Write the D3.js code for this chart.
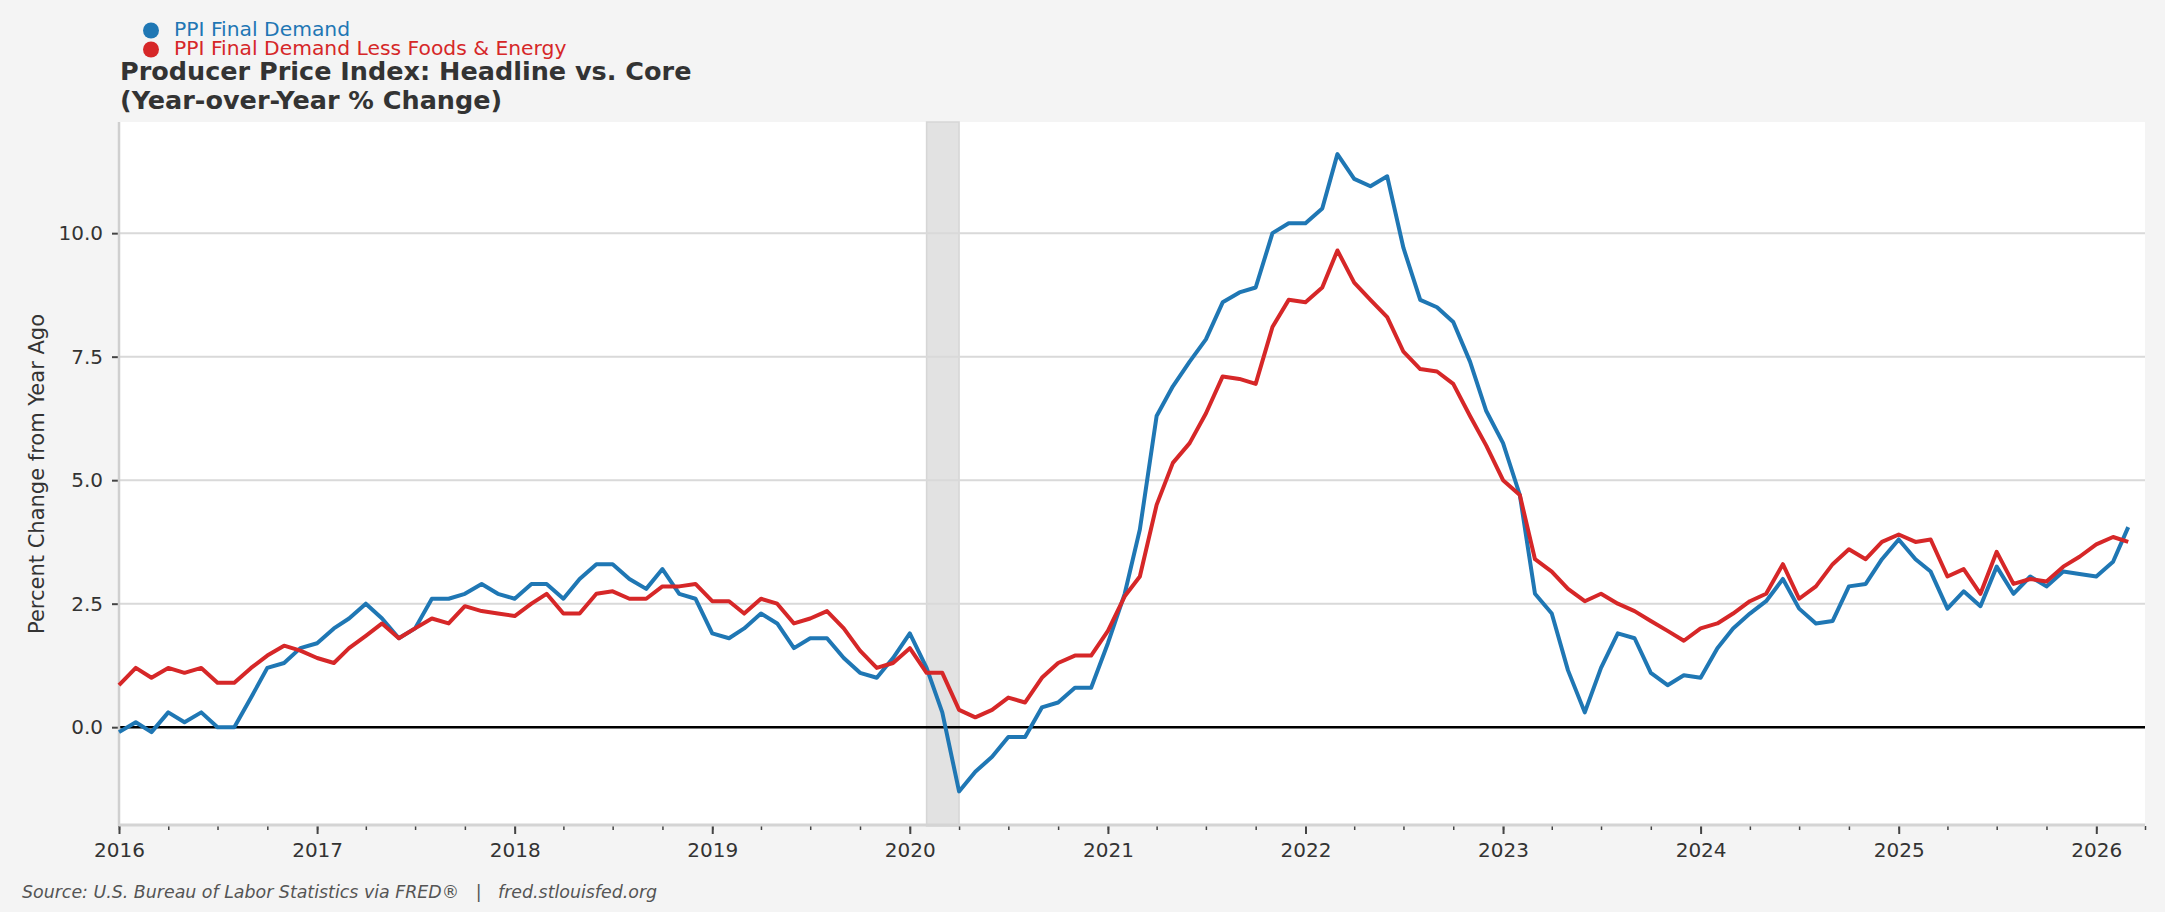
<!DOCTYPE html>
<html>
<head>
<meta charset="utf-8">
<script src="https://cdn.jsdelivr.net/npm/d3@7"></script>
<style>
  body { margin: 0; background: #f4f4f4; }
  text { font-family: "DejaVu Sans", sans-serif; }
</style>
</head>
<body>
<div id="chart"></div>
<script>
// months run Jan 2016 .. Mar 2026
var startMonth = "2016-01";

// PPI Final Demand, YoY %
var headline = [
  -0.1, 0.1, -0.1, 0.3, 0.1, 0.3, 0.0, 0.0, 0.6, 1.2, 1.3, 1.6,
  1.7, 2.0, 2.2, 2.5, 2.2, 1.8, 2.0, 2.6, 2.6, 2.7, 2.9, 2.7,
  2.6, 2.9, 2.9, 2.6, 3.0, 3.3, 3.3, 3.0, 2.8, 3.2, 2.7, 2.6,
  1.9, 1.8, 2.0, 2.3, 2.1, 1.6, 1.8, 1.8, 1.4, 1.1, 1.0, 1.4,
  1.9, 1.2, 0.3, -1.3, -0.9, -0.6, -0.2, -0.2, 0.4, 0.5, 0.8, 0.8,
  1.7, 2.7, 4.0, 6.3, 6.9, 7.4, 7.85, 8.6, 8.8, 8.9, 10.0, 10.2,
  10.2, 10.5, 11.6, 11.1, 10.95, 11.15, 9.7, 8.65, 8.5, 8.2, 7.4, 6.4,
  5.75, 4.7, 2.7, 2.3, 1.15, 0.3, 1.2, 1.9, 1.8, 1.1, 0.85, 1.05,
  1.0, 1.6, 2.0, 2.3, 2.55, 3.0, 2.4, 2.1, 2.15, 2.85, 2.9, 3.4,
  3.8, 3.4, 3.15, 2.4, 2.75, 2.45, 3.25, 2.7, 3.05, 2.85, 3.15, 3.1,
  3.05, 3.35, 4.05
];

// PPI Final Demand Less Foods & Energy, YoY %
var core = [
  0.85, 1.2, 1.0, 1.2, 1.1, 1.2, 0.9, 0.9, 1.2, 1.45, 1.65, 1.55,
  1.4, 1.3, 1.6, 1.85, 2.1, 1.8, 2.0, 2.2, 2.1, 2.45, 2.35, 2.3,
  2.25, 2.5, 2.7, 2.3, 2.3, 2.7, 2.75, 2.6, 2.6, 2.85, 2.85, 2.9,
  2.55, 2.55, 2.3, 2.6, 2.5, 2.1, 2.2, 2.35, 2.0, 1.55, 1.2, 1.3,
  1.6, 1.1, 1.1, 0.35, 0.2, 0.35, 0.6, 0.5, 1.0, 1.3, 1.45, 1.45,
  1.95, 2.65, 3.05, 4.5, 5.35, 5.75, 6.35, 7.1, 7.05, 6.95, 8.1, 8.65,
  8.6, 8.9, 9.65, 9.0, 8.65, 8.3, 7.6, 7.25, 7.2, 6.95, 6.3, 5.7,
  5.0, 4.7, 3.4, 3.15, 2.8, 2.55, 2.7, 2.5, 2.35, 2.15, 1.95, 1.75,
  2.0, 2.1, 2.3, 2.55, 2.7, 3.3, 2.6, 2.85, 3.3, 3.6, 3.4, 3.75,
  3.9, 3.75, 3.8, 3.05, 3.2, 2.7, 3.55, 2.9, 3.0, 2.95, 3.25, 3.45,
  3.7, 3.85, 3.75
];

var seriesNames = ["PPI Final Demand", "PPI Final Demand Less Foods & Energy"];
var seriesColors = ["#1f77b4", "#d62728"];
var yTicks = [0, 2.5, 5, 7.5, 10];
var recession = ["2020-02-01", "2020-04-01"];

var svgWidth = 2165;
var svgHeight = 912;
var margin = { top: 122, right: 20, bottom: 86, left: 119 };
var width = svgWidth - margin.left - margin.right;
var height = svgHeight - margin.top - margin.bottom;

var parseMonth = d3.timeParse("%Y-%m");
var parseDay = d3.timeParse("%Y-%m-%d");
var start = parseMonth(startMonth);
var months = headline.map((d, i) => d3.timeMonth.offset(start, i));

var svg = d3.select("#chart")
  .append("svg")
  .attr("width", svgWidth)
  .attr("height", svgHeight);

svg.append("rect")
  .attr("width", svgWidth)
  .attr("height", svgHeight)
  .attr("fill", "#f4f4f4");

var chartGroup = svg.append("g")
  .attr("transform", `translate(${margin.left}, ${margin.top})`);

var xScale = d3.scaleTime()
  .domain([parseMonth("2016-01"), parseMonth("2026-04")])
  .range([0, width]);

var yScale = d3.scaleLinear()
  .domain([-2.0, 12.25])
  .range([height, 0]);

// plot background
chartGroup.append("rect")
  .attr("width", width)
  .attr("height", height)
  .attr("fill", "#ffffff");

// recession shading
chartGroup.append("rect")
  .attr("x", xScale(parseDay(recession[0])))
  .attr("width", xScale(parseDay(recession[1])) - xScale(parseDay(recession[0])))
  .attr("y", 0)
  .attr("height", height)
  .attr("fill", "#e2e2e2")
  .attr("stroke", "#d6d6d6")
  .attr("stroke-width", 1.5);

// horizontal grid
chartGroup.selectAll(".grid")
  .data(yTicks)
  .enter()
  .append("line")
  .attr("x1", 0)
  .attr("x2", width)
  .attr("y1", d => yScale(d))
  .attr("y2", d => yScale(d))
  .attr("stroke", "#d9d9d9")
  .attr("stroke-width", 2);

// zero line
chartGroup.append("line")
  .attr("x1", 0)
  .attr("x2", width)
  .attr("y1", yScale(0))
  .attr("y2", yScale(0))
  .attr("stroke", "#000")
  .attr("stroke-width", 2.5);

// y axis
var leftAxis = d3.axisLeft(yScale)
  .tickValues(yTicks)
  .tickFormat(d3.format(".1f"))
  .tickSize(7)
  .tickPadding(9);

var yAxis = chartGroup.append("g").call(leftAxis);
yAxis.select(".domain").remove();
yAxis.selectAll("line").attr("stroke", "#444").attr("stroke-width", 2);
yAxis.selectAll("text")
  .attr("font-size", 20)
  .attr("fill", "#333");

// x axis: minor quarterly ticks, major yearly
var minorAxis = d3.axisBottom(xScale)
  .ticks(d3.timeMonth.every(3))
  .tickSize(4)
  .tickFormat("");
chartGroup.append("g")
  .attr("transform", `translate(0, ${height})`)
  .call(minorAxis)
  .call(g => g.select(".domain").remove())
  .selectAll("line").attr("stroke", "#444").attr("stroke-width", 1.5);

var bottomAxis = d3.axisBottom(xScale)
  .ticks(d3.timeYear.every(1))
  .tickFormat(d3.timeFormat("%Y"))
  .tickSize(8)
  .tickPadding(9);
var xAxis = chartGroup.append("g")
  .attr("transform", `translate(0, ${height})`)
  .call(bottomAxis);
xAxis.select(".domain").remove();
xAxis.selectAll("line").attr("stroke", "#444").attr("stroke-width", 2);
xAxis.selectAll("text")
  .attr("font-size", 20)
  .attr("fill", "#333");

// spines
chartGroup.append("line")
  .attr("x1", 0).attr("x2", 0)
  .attr("y1", 0).attr("y2", height)
  .attr("stroke", "#cfcfcf")
  .attr("stroke-width", 2.5);
chartGroup.append("line")
  .attr("x1", 0).attr("x2", width)
  .attr("y1", height - 1).attr("y2", height - 1)
  .attr("stroke", "#d4d4d4")
  .attr("stroke-width", 3);

// lines
var lineGen = d3.line()
  .x((d, i) => xScale(months[i]))
  .y(d => yScale(d));

[headline, core].forEach(function(series, k) {
  chartGroup.append("path")
    .datum(series)
    .attr("fill", "none")
    .attr("stroke", seriesColors[k])
    .attr("stroke-width", 4)
    .attr("stroke-linejoin", "round")
    .attr("d", lineGen);
});

// y label
svg.append("text")
  .attr("transform", `translate(37, ${margin.top + height / 2}) rotate(-90)`)
  .attr("text-anchor", "middle")
  .attr("dominant-baseline", "central")
  .attr("font-size", 21)
  .attr("fill", "#333")
  .text("Percent Change from Year Ago");

// legend
var legend = svg.append("g");
seriesNames.forEach(function(name, k) {
  var base = 36 + k * 19;
  legend.append("circle")
    .attr("cx", 151)
    .attr("cy", base - 5.5)
    .attr("r", 8)
    .attr("fill", seriesColors[k]);
  legend.append("text")
    .attr("x", 174)
    .attr("y", base)
    .attr("font-size", 20.3)
    .attr("fill", seriesColors[k])
    .text(name);
});

// title
var title = svg.append("text")
  .attr("x", 120)
  .attr("font-size", 25.5)
  .attr("font-weight", "bold")
  .attr("fill", "#333");
title.append("tspan").attr("x", 120).attr("y", 80).text("Producer Price Index: Headline vs. Core");
title.append("tspan").attr("x", 120).attr("y", 109).text("(Year-over-Year % Change)");

// source
svg.append("text")
  .attr("x", 22)
  .attr("y", 898)
  .attr("font-size", 17.4)
  .attr("font-style", "italic")
  .attr("fill", "#555")
  .style("white-space", "pre")
  .text("Source: U.S. Bureau of Labor Statistics via FRED®   |   fred.stlouisfed.org");
</script>
</body>
</html>
